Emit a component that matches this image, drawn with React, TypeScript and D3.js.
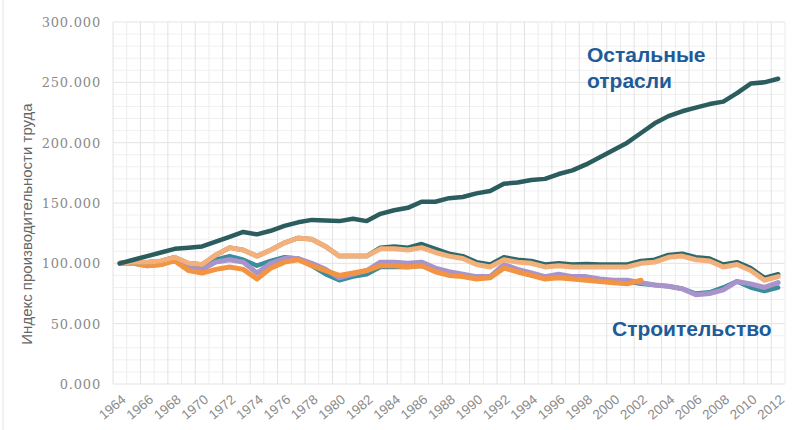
import React from "react";
import * as d3 from "d3";

const years = d3.range(1964, 2013);

const other = [100, 103, 106, 109, 112, 113, 114, 118, 122, 126, 124, 127, 131, 134, 136, 135.5, 135, 137, 135, 141, 144, 146, 151, 151, 154, 155, 158, 160, 166, 167, 169, 170, 174, 177, 182, 188, 194, 200, 208, 216, 222, 226, 229, 232, 234, 241, 249, 250, 253];
const upperOrange = [100, 101, 101, 102, 105, 100, 99, 107, 113, 111, 106, 111, 117, 121, 120, 114, 106, 106, 106, 112, 112, 111, 113, 109, 106, 104, 99, 97, 103, 101, 100, 97, 98, 97, 97, 97, 97, 97, 100, 101, 105, 106, 103, 102, 97, 99, 94, 86, 89];
const upperTeal = [100, 101, 101, 102, 105, 100, 99, 107, 113, 111, 106, 111, 117, 121, 120, 114, 106, 106, 106, 113, 114, 113, 116, 112, 108, 106, 101, 99, 105, 103, 102, 99, 100, 99, 99.5, 99, 99, 99, 102, 103, 107, 108, 105, 104, 99, 101, 96, 88, 91];
const lowerTeal = [100, 101, 100, 101, 104, 98, 97, 103, 106, 103, 98, 102, 105, 104, 98, 91, 86, 89, 91, 97, 97, 97, 98, 94, 91, 90, 88, 88, 97, 93, 90, 88, 89, 88, 87, 86, 85, 85, 83, 82, 81, 79, 75, 76, 80, 85, 80, 77, 80];
const lowerPurple = [100, 100, 98, 99, 103, 96, 95, 101, 103, 101, 92, 100, 104, 104, 100, 95, 88, 91, 94, 101, 101, 100, 101, 96, 93, 91, 89, 89, 99, 95, 92, 89, 91, 89, 89, 87, 86, 86, 84, 82, 81, 79, 74, 75, 78, 85, 83, 80, 84];
const lowerOrange = [100, 100, 98, 99, 102, 94, 92, 95, 97, 95, 87, 96, 101, 103, 98, 94, 90, 92, 94, 98, 98, 97, 98, 93, 90, 89, 87, 88, 96, 93, 90, 87, 88, 87, 86, 85, 84, 83, 86];

const yTicks = [0, 50, 100, 150, 200, 250, 300];
const xLabelYears = years.filter((y) => (y - 1964) % 2 === 0);

const series = [
  { values: lowerTeal, color: "#3b8d9c", width: 4.5 },
  { values: lowerPurple, color: "#a993cb", width: 5 },
  { values: lowerOrange, color: "#f39442", width: 5 },
  { values: upperTeal, color: "#2f6868", width: 4.5 },
  { values: upperOrange, color: "#f3b07a", width: 5 },
  { values: other, color: "#2b5c5e", width: 4.5 },
];

export default function App() {
  const W = 804;
  const H = 430;
  const left = 113;
  const right = 785;
  const top = 22;
  const bottom = 384;

  const x = d3.scaleBand<number>().domain(years).range([left, right]);
  const cx = (yr: number) => (x(yr) as number) + x.bandwidth() / 2;
  const y = d3.scaleLinear().domain([0, 300]).range([bottom, top]);

  const line = d3
    .line<number>()
    .x((_, i) => cx(years[i]))
    .y((d) => y(d));

  const minor = d3.range(0, 301, 10);
  const sans = "'Liberation Sans', Arial, sans-serif";

  return (
    <svg width={W} height={H} style={{ position: "absolute", left: 0, top: 0, background: "#fff" }}>
      <line x1={3} x2={3} y1={0} y2={H} stroke="#e2e2e2" />
      {/* grid */}
      {minor.map((v) => (
        <line key={"h" + v} x1={left} x2={right} y1={y(v)} y2={y(v)}
          stroke={v % 50 === 0 ? "#e3e3e3" : "#f0f0f0"} strokeWidth={1} />
      ))}
      {years.concat([2013]).map((yr, i) => {
        const xx = left + i * x.bandwidth();
        return (
          <line key={"v" + yr} x1={xx} x2={xx} y1={top} y2={bottom}
            stroke={i % 2 === 0 ? "#e2e2e2" : "#ececec"} strokeWidth={1} />
        );
      })}
      {/* y ticks */}
      {yTicks.map((v) => (
        <text key={"yt" + v} x={101} y={y(v) + 5} textAnchor="end"
          fontFamily="'DejaVu Serif', serif" fontSize={13} letterSpacing={0.8} fill="#8a8a8a">
          {d3.format(".3f")(v).replace(",", "")}
        </text>
      ))}
      <text transform={`translate(32,${(top + bottom) / 2 + 21}) rotate(-90)`} textAnchor="middle"
        fontFamily={sans} fontSize={15} fill="#666">
        Индекс производительности труда
      </text>
      {/* x labels */}
      {xLabelYears.map((yr) => (
        <text key={"xt" + yr} transform={`translate(${cx(yr) + 7},${bottom + 17}) rotate(-40)`}
          textAnchor="end" fontFamily={sans} fontSize={13.5} fill="#8a8a8a">
          {yr}
        </text>
      ))}
      {/* lines */}
      {series.map((s, i) => (
        <path key={"s" + i} d={line(s.values) || ""} fill="none" stroke={s.color}
          strokeWidth={s.width} strokeLinejoin="round" strokeLinecap="round" />
      ))}
      {/* labels */}
      <text x={587} y={62} fontFamily={sans} fontWeight="bold" fontSize={21} fill="#1d5b99">
        Остальные
      </text>
      <text x={587} y={88} fontFamily={sans} fontWeight="bold" fontSize={21} fill="#1d5b99">
        отрасли
      </text>
      <text x={612} y={336} fontFamily={sans} fontWeight="bold" fontSize={21} fill="#1d5b99">
        Строительство
      </text>
    </svg>
  );
}
